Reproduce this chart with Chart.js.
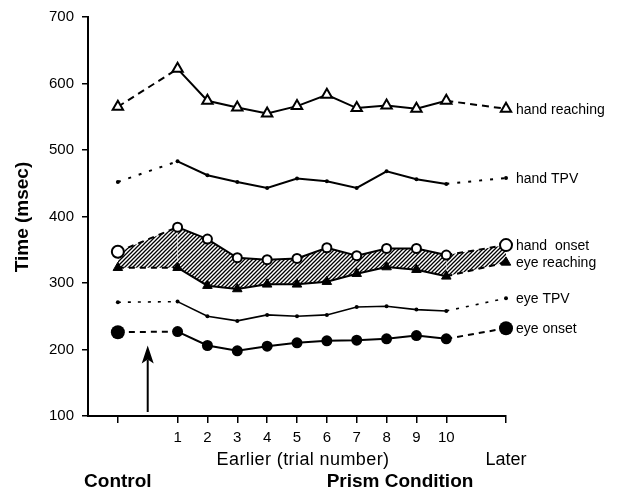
<!DOCTYPE html>
<html>
<head>
<meta charset="utf-8">
<script src="https://cdn.jsdelivr.net/npm/chart.js@4.4.1/dist/chart.umd.min.js"></script>
<style>
  body { margin: 0; background: #fff; }
</style>
</head>
<body>
<canvas id="mycanvas" width="618" height="492"></canvas>
<script>
// trial positions on the x axis: Control, trials 1-10, Later
var categories = ['Control', '1', '2', '3', '4', '5', '6', '7', '8', '9', '10', 'Later'];
var trialPositions = [-1, 1, 2, 3, 4, 5, 6, 7, 8, 9, 10, 12];
var tickLabels = ['', '1', '2', '3', '4', '5', '6', '7', '8', '9', '10', ''];
var yTicks = [100, 200, 300, 400, 500, 600, 700];

// times in msec
var handReaching = [565, 622, 574, 564, 555, 566, 583, 563, 567, 562, 574, 562];
var handTPV      = [452, 483, 462, 452, 443, 457, 453, 443, 468, 456, 449, 458];
var handOnset    = [347, 384, 366, 338, 335, 337, 353, 341, 352, 352, 342, 357];
var eyeReaching  = [323, 323, 296, 291, 298, 298, 302, 314, 324, 320, 310, 331];
var eyeTPV       = [271, 272, 250, 243, 252, 250, 252, 264, 265, 260, 258, 277];
var eyeOnset     = [226, 227, 206, 198, 205, 210, 213, 214, 216, 221, 216, 232];

var seriesNames = ['hand reaching', 'hand TPV', 'hand  onset', 'eye reaching', 'eye TPV', 'eye onset'];

// arrow marking the start of prism trials
var arrowX = 0;
var arrowFrom = 106;
var arrowTo = 206;

var FONT = "'Liberation Sans', Arial, Helvetica, sans-serif";

function points(values) {
  var out = [];
  for (var i in values) {
    out.push({ x: trialPositions[i], y: values[i] });
  }
  return out;
}

function dashEnds(dash) {
  return function(ctx) {
    var last = trialPositions.length - 1;
    if (ctx.p0DataIndex === 0 || ctx.p1DataIndex === last) return dash;
    return undefined;
  };
}

// hatch pattern for the band between hand onset and eye reaching
var pc = document.createElement('canvas');
pc.width = 4;
pc.height = 4;
var pctx = pc.getContext('2d');
pctx.fillStyle = '#fff';
pctx.fillRect(0, 0, 4, 4);
pctx.strokeStyle = '#000';
pctx.lineWidth = 1.3;
pctx.beginPath();
pctx.moveTo(0, 4); pctx.lineTo(4, 0);
pctx.moveTo(-1, 1); pctx.lineTo(1, -1);
pctx.moveTo(3, 5); pctx.lineTo(5, 3);
pctx.stroke();
var hatch = pctx.createPattern(pc, 'repeat');

var decorations = {
  id: 'decorations',
  afterDraw: function(chart) {
    var ctx = chart.ctx;
    var xs = chart.scales.x;
    var ys = chart.scales.y;
    var last = trialPositions.length - 1;
    ctx.save();
    ctx.fillStyle = '#000';
    ctx.strokeStyle = '#000';

    // series names next to the "Later" points
    ctx.font = '14px ' + FONT;
    ctx.textAlign = 'left';
    ctx.textBaseline = 'middle';
    chart.data.datasets.forEach(function(ds, i) {
      var meta = chart.getDatasetMeta(i);
      var pt = meta.data[last];
      ctx.fillText(seriesNames[i], pt.x + 10, pt.y + 1);
    });

    // arrow
    var ax = xs.getPixelForValue(arrowX);
    var yb = ys.getPixelForValue(arrowFrom);
    var yt = ys.getPixelForValue(arrowTo);
    ctx.lineWidth = 2;
    ctx.beginPath();
    ctx.moveTo(ax, yb);
    ctx.lineTo(ax, yt + 14);
    ctx.stroke();
    ctx.beginPath();
    ctx.moveTo(ax, yt);
    ctx.lineTo(ax - 6, yt + 18);
    ctx.lineTo(ax, yt + 14);
    ctx.lineTo(ax + 6, yt + 18);
    ctx.closePath();
    ctx.fill();

    // axis titles and condition labels
    ctx.textAlign = 'center';
    ctx.font = '18px ' + FONT;
    ctx.fillText('Later', xs.getPixelForValue(12), 460);
    ctx.letterSpacing = '0.4px';
    ctx.fillText('Earlier (trial number)', 303, 460);
    ctx.letterSpacing = '0px';
    ctx.font = 'bold 19px ' + FONT;
    ctx.fillText('Control', xs.getPixelForValue(-1), 482);
    ctx.fillText('Prism Condition', 400, 482);

    ctx.translate(23, 217);
    ctx.rotate(-Math.PI / 2);
    ctx.font = 'bold 19px ' + FONT;
    ctx.fillText('Time (msec)', 0, 0);
    ctx.restore();
  }
};

var chartdata = {
  datasets: [
    {
      label: 'hand reaching',
      data: points(handReaching),
      borderColor: '#000',
      borderWidth: 2,
      pointStyle: 'triangle',
      pointRadius: 6,
      pointBorderWidth: 2,
      pointBackgroundColor: '#fff',
      pointBorderColor: '#000',
      fill: false,
      segment: { borderDash: dashEnds([7, 5]) }
    },
    {
      label: 'hand TPV',
      data: points(handTPV),
      borderColor: '#000',
      borderWidth: 2,
      pointStyle: 'circle',
      pointRadius: 2,
      pointBorderWidth: 0,
      pointBackgroundColor: '#000',
      fill: false,
      segment: { borderDash: dashEnds([3, 8]) }
    },
    {
      label: 'hand onset',
      data: points(handOnset),
      borderColor: '#000',
      borderWidth: 2,
      backgroundColor: hatch,
      pointStyle: 'circle',
      pointRadius: [6, 4.5, 4.5, 4.5, 4.5, 4.5, 4.5, 4.5, 4.5, 4.5, 4.5, 6],
      pointBorderWidth: 2,
      pointBackgroundColor: '#fff',
      pointBorderColor: '#000',
      fill: { target: 3 },
      segment: { borderDash: dashEnds([6, 5]) }
    },
    {
      label: 'eye reaching',
      data: points(eyeReaching),
      borderColor: '#000',
      borderWidth: 2,
      pointStyle: 'triangle',
      pointRadius: 5.5,
      pointBorderWidth: 1,
      pointBackgroundColor: '#000',
      pointBorderColor: '#000',
      fill: false,
      segment: { borderDash: dashEnds([6, 5]) }
    },
    {
      label: 'eye TPV',
      data: points(eyeTPV),
      borderColor: '#000',
      borderWidth: 1.6,
      pointStyle: 'circle',
      pointRadius: 2,
      pointBorderWidth: 0,
      pointBackgroundColor: '#000',
      fill: false,
      segment: { borderDash: dashEnds([3, 7]) }
    },
    {
      label: 'eye onset',
      data: points(eyeOnset),
      borderColor: '#000',
      borderWidth: 2,
      pointStyle: 'circle',
      pointRadius: [7, 5.5, 5.5, 5.5, 5.5, 5.5, 5.5, 5.5, 5.5, 5.5, 5.5, 7],
      pointBorderWidth: 0,
      pointBackgroundColor: '#000',
      fill: false,
      segment: { borderDash: dashEnds([6, 5]) }
    }
  ]
};

var ctx = document.getElementById('mycanvas');

var LineGraph = new Chart(ctx, {
  type: 'line',
  data: chartdata,
  plugins: [decorations],
  options: {
    responsive: false,
    devicePixelRatio: 1,
    animation: false,
    clip: false,
    layout: { padding: { top: 11, right: 112, left: 0, bottom: 0 } },
    plugins: {
      legend: { display: false },
      tooltip: { enabled: false },
      filler: { propagate: false, drawTime: 'beforeDatasetsDraw' }
    },
    elements: { line: { tension: 0 } },
    scales: {
      x: {
        type: 'linear',
        min: -2,
        max: 12,
        afterBuildTicks: function(scale) {
          scale.ticks = trialPositions.map(function(v) { return { value: v }; });
        },
        afterFit: function(scale) { scale.height = 76; },
        ticks: {
          autoSkip: false,
          maxRotation: 0,
          padding: 6,
          color: '#000',
          font: { family: FONT, size: 15 },
          callback: function(value) {
            var i = trialPositions.indexOf(value);
            return i >= 0 ? tickLabels[i] : '';
          }
        },
        grid: { drawOnChartArea: false, tickLength: 7, color: '#000', lineWidth: 1.5 },
        border: { color: '#000', width: 2 }
      },
      y: {
        min: 100,
        max: 700,
        afterBuildTicks: function(scale) {
          scale.ticks = yTicks.map(function(v) { return { value: v }; });
        },
        afterFit: function(scale) { scale.width = 88; },
        ticks: {
          padding: 8,
          color: '#000',
          font: { family: FONT, size: 15 }
        },
        grid: { drawOnChartArea: false, tickLength: 6, color: '#000', lineWidth: 1.5 },
        border: { color: '#000', width: 2 }
      }
    }
  }
});
</script>
</body>
</html>
